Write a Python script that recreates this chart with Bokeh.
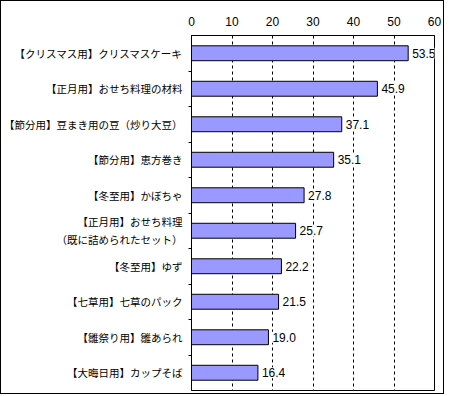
from bokeh.plotting import figure
from bokeh.models import Range1d, FixedTicker, ColumnDataSource
from bokeh.embed import file_html
from bokeh.resources import INLINE
from bokeh.core.properties import value

categories = [
    "【クリスマス用】クリスマスケーキ",
    "【正月用】おせち料理の材料",
    "【節分用】豆まき用の豆（炒り大豆）",
    "【節分用】恵方巻き",
    "【冬至用】かぼちゃ",
    "【正月用】おせち料理\n（既に詰められたセット）",
    "【冬至用】ゆず",
    "【七草用】七草のパック",
    "【雛祭り用】雛あられ",
    "【大晦日用】カップそば",
]
values = [53.5, 45.9, 37.1, 35.1, 27.8, 25.7, 22.2, 21.5, 19.0, 16.4]
x_ticks = [0, 10, 20, 30, 40, 50, 60]

n = len(categories)
ypos = [i + 0.5 for i in range(n)]
src = ColumnDataSource(dict(y=ypos, v=values, lbl=["%.1f" % v for v in values]))

p = figure(width=444, height=394, output_backend="svg", toolbar_location=None,
           x_range=Range1d(0, 60), y_range=Range1d(n, 0),
           x_axis_location="above", min_border_left=189, min_border_right=11,
           min_border_top=34, min_border_bottom=5)
p.styles = {"border": "1px solid black", "box-sizing": "border-box"}
p.outline_line_color = "black"
p.outline_line_width = 1
p.background_fill_color = "white"
p.border_fill_color = "white"

p.hbar(y="y", right="v", left=0, height=0.42, source=src,
       fill_color="#9999FF", line_color="black", line_width=1)
p.text(x="v", y="y", text="lbl", source=src, x_offset=3,
       text_align="left", text_baseline="middle",
       background_fill_color="white", padding=1,
       text_font=value("Liberation Sans"), text_font_size="12px", text_color="black")

xa = p.xaxis[0]
xa.ticker = FixedTicker(ticks=x_ticks)
xa.major_tick_out = 0
xa.major_tick_in = 0
xa.minor_tick_out = 0
xa.minor_tick_in = 0
xa.axis_line_color = "black"
xa.major_label_standoff = 10
xa.major_label_text_font = "Liberation Sans"
xa.major_label_text_font_size = "12px"
xa.major_label_text_color = "black"

ya = p.yaxis[0]
ya.ticker = FixedTicker(ticks=ypos, minor_ticks=list(range(1, n)))
ya.major_label_overrides = {y: c for y, c in zip(ypos, categories)}
ya.major_tick_out = 0
ya.major_tick_in = 0
ya.minor_tick_out = 3
ya.minor_tick_in = 0
ya.minor_tick_line_color = "black"
ya.axis_line_color = "black"
ya.major_label_standoff = 6
ya.major_label_text_font = "Noto Sans CJK JP"
ya.major_label_text_font_size = "10.5px"
ya.major_label_text_color = "black"

p.xgrid.ticker = FixedTicker(ticks=x_ticks)
p.xgrid.grid_line_color = "black"
p.xgrid.grid_line_dash = "3 3"
p.xgrid.grid_line_width = 1
p.ygrid.grid_line_color = None

open("out.html", "w").write(file_html(p, INLINE))
